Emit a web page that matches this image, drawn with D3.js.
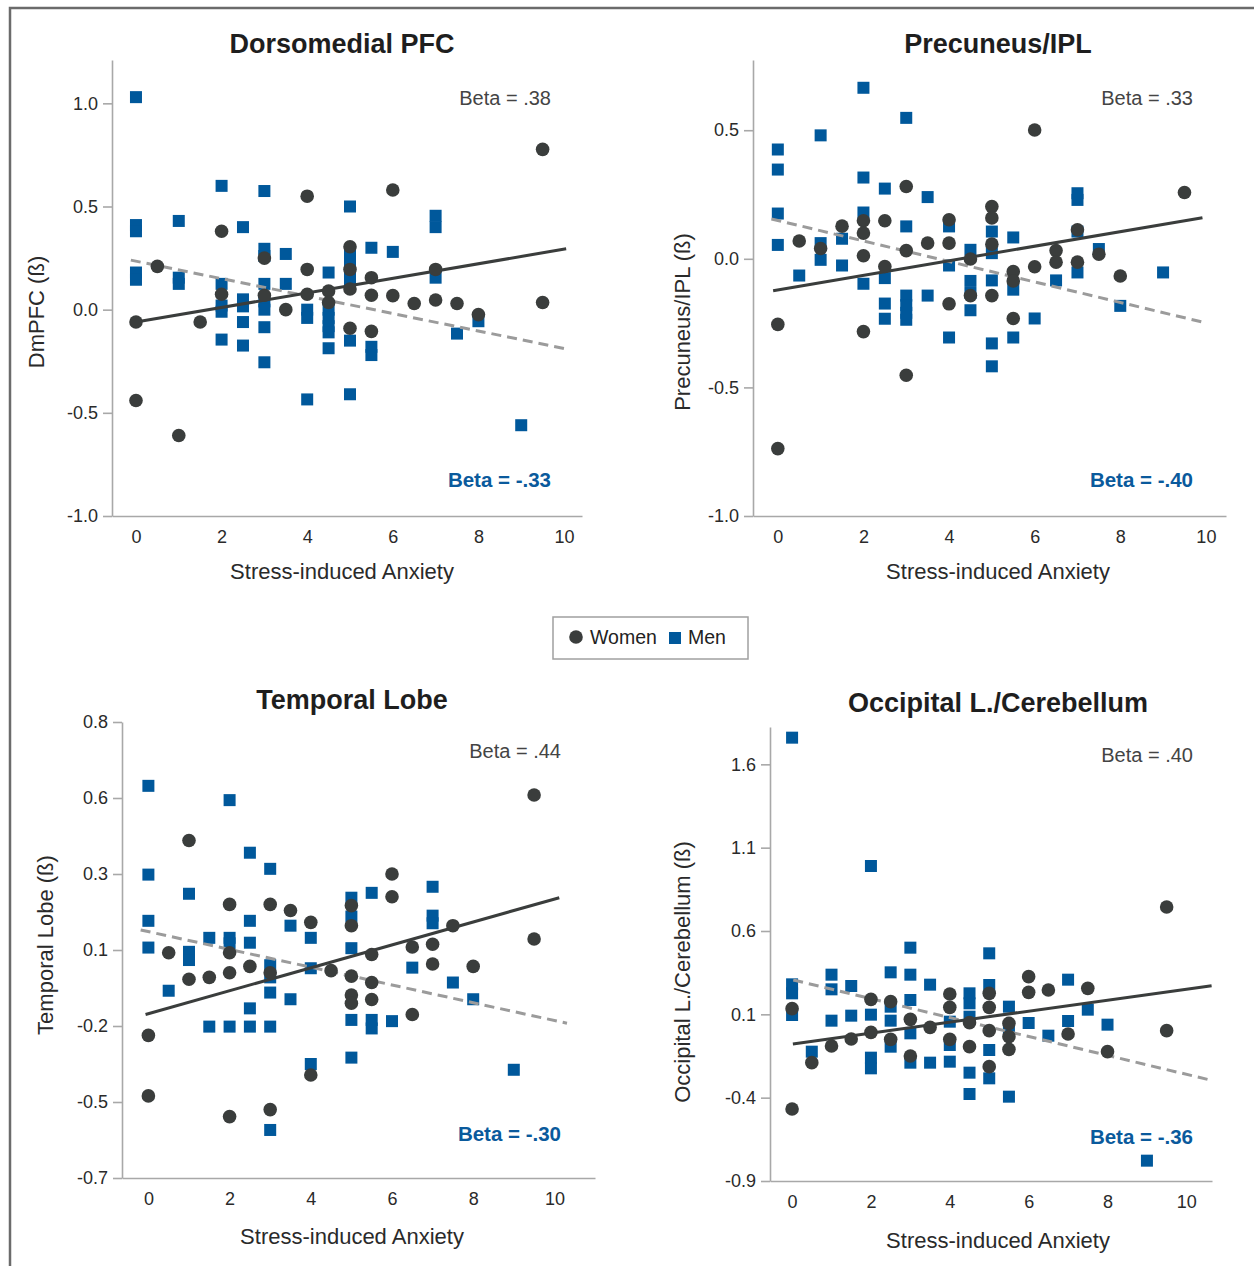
<!DOCTYPE html>
<html>
<head>
<meta charset="utf-8">
<script src="https://cdn.jsdelivr.net/npm/d3@7"></script>
<style>
  body { margin: 0; background: #fff; }
  svg { font-family: "Liberation Sans", Arial, sans-serif; }
</style>
</head>
<body>
<div id="viz-container"></div>
<script>
const width = 1254, height = 1266;

// Données : [anxiété, bêta]
const dmpfcWomen = [[0,-0.06],[0,-0.44],[0.5,0.21],[1,-0.61],[1.5,-0.06],[2,0.38],[2,0.075],[3,0.25],[3,0.07],[3.5,0.0],[4,0.55],[4,0.195],[4,0.075],[4.5,0.09],[4.5,0.035],[5,0.305],[5,0.195],[5,0.1],[5,-0.09],[5.5,0.155],[5.5,0.07],[5.5,-0.105],[6,0.58],[6,0.068],[6.5,0.03],[7,0.195],[7,0.047],[7.5,0.03],[8,-0.024],[9.5,0.777],[9.5,0.035]];
const dmpfcMen = [[0,1.03],[0,0.41],[0,0.38],[0,0.18],[0,0.145],[1,0.43],[1,0.155],[1,0.125],[2,0.6],[2,0.125],[2,0.02],[2,-0.01],[2,-0.145],[2.5,0.4],[2.5,0.05],[2.5,0.016],[2.5,-0.06],[2.5,-0.174],[3,0.575],[3,0.295],[3,0.26],[3,0.125],[3,0.04],[3,0.0],[3,-0.085],[3,-0.255],[3.5,0.27],[3.5,0.125],[4,0.0],[4,-0.04],[4,-0.435],[4.5,0.18],[4.5,0.0],[4.5,-0.04],[4.5,-0.08],[4.5,-0.11],[4.5,-0.187],[5,0.5],[5,0.27],[5,0.23],[5,0.18],[5,0.14],[5,-0.15],[5,-0.41],[5.5,0.3],[5.5,-0.18],[5.5,-0.22],[6,0.28],[7,0.455],[7,0.4],[7,0.155],[7.5,-0.116],[8,-0.056],[9,-0.56]];
const dmpfcWomenFit = [[0,-0.06],[10.05,0.295]];
const dmpfcMenFit = [[-0.12,0.24],[10.05,-0.19]];

const precWomen = [[0,-0.255],[0,-0.738],[0.5,0.069],[1,0.04],[1.5,0.127],[2,0.148],[2,0.1],[2,0.012],[2,-0.283],[2.5,0.148],[2.5,-0.03],[3,0.281],[3,0.032],[3,-0.453],[3.5,0.061],[4,0.152],[4,0.061],[4,-0.175],[4.5,-0.001],[4.5,-0.143],[5,0.203],[5,0.159],[5,0.057],[5,-0.143],[5.5,-0.05],[5.5,-0.086],[5.5,-0.232],[6,0.501],[6,-0.031],[6.5,0.032],[6.5,-0.013],[7,0.113],[7,-0.013],[7.5,0.018],[8,-0.067],[9.5,0.258]];
const precMen = [[0,0.425],[0,0.347],[0,0.176],[0,0.054],[0.5,-0.065],[1,0.48],[1,0.061],[1,-0.004],[1.5,0.078],[1.5,-0.026],[2,0.665],[2,0.316],[2,0.18],[2,-0.097],[2.5,0.273],[2.5,-0.075],[2.5,-0.174],[2.5,-0.233],[3,0.548],[3,0.126],[3,-0.143],[3,-0.18],[3,-0.21],[3,-0.237],[3.5,0.24],[3.5,-0.143],[4,0.126],[4,-0.026],[4,-0.306],[4.5,0.035],[4.5,-0.086],[4.5,-0.133],[4.5,-0.2],[5,0.106],[5,0.022],[5,-0.084],[5,-0.329],[5,-0.418],[5.5,0.083],[5.5,-0.12],[5.5,-0.306],[6,-0.232],[6.5,-0.084],[7,0.255],[7,0.229],[7,0.106],[7,-0.053],[7.5,0.038],[8,-0.183],[9,-0.053]];
const precWomenFit = [[-0.11,-0.124],[9.92,0.16]];
const precMenFit = [[-0.15,0.155],[10.02,-0.25]];

const tempWomen = [[0,-0.231],[0,-0.43],[0.5,0.041],[1,0.41],[1,-0.046],[1.5,-0.04],[2,0.2],[2,0.041],[2,-0.025],[2,-0.498],[2.5,-0.004],[3,0.2],[3,-0.025],[3,-0.475],[3.5,0.18],[4,0.141],[4,-0.361],[4.5,-0.018],[5,0.196],[5,0.13],[5,-0.036],[5,-0.098],[5,-0.125],[5.5,0.035],[5.5,-0.057],[5.5,-0.113],[6,0.3],[6,0.225],[6.5,0.06],[6.5,-0.162],[7,0.069],[7,0.004],[7.5,0.13],[8,-0.004],[9.5,0.56],[9.5,0.086]];
const tempMen = [[0,0.59],[0,0.298],[0,0.146],[0,0.058],[0.5,-0.084],[1,0.235],[1,0.044],[1,0.017],[1.5,0.09],[1.5,-0.202],[2,0.543],[2,0.09],[2,0.072],[2,-0.202],[2.5,0.37],[2.5,0.146],[2.5,0.074],[2.5,-0.142],[2.5,-0.202],[3,0.317],[3,0.0],[3,-0.04],[3,-0.09],[3,-0.202],[3,-0.542],[3.5,0.13],[3.5,-0.112],[4,0.09],[4,-0.01],[4,-0.325],[5,0.222],[5,0.16],[5,0.056],[5,-0.18],[5,-0.304],[5.5,0.238],[5.5,-0.18],[5.5,-0.208],[6,-0.184],[6.5,-0.008],[7,0.258],[7,0.163],[7,0.138],[7.5,-0.057],[8,-0.112],[9,-0.344]];
const tempWomenFit = [[-0.07,-0.162],[10.12,0.222]];
const tempMenFit = [[-0.19,0.116],[10.31,-0.191]];

const occWomen = [[0,0.134],[0,-0.468],[0.5,-0.19],[1,-0.09],[1.5,-0.048],[2,0.19],[2,-0.008],[2.5,0.176],[2.5,-0.05],[3,0.07],[3,-0.15],[3.5,0.022],[4,0.222],[4,0.142],[4,-0.05],[4.5,0.05],[4.5,-0.094],[5,0.226],[5,0.142],[5,0.002],[5,-0.214],[5.5,0.046],[5.5,-0.034],[5.5,-0.11],[6,0.326],[6,0.232],[6.5,0.246],[7,-0.018],[7.5,0.256],[8,-0.124],[9.5,0.744],[9.5,0.002]];
const occMen = [[0,1.76],[0,0.28],[0,0.226],[0,0.096],[0.5,-0.124],[1,0.338],[1,0.25],[1,0.062],[1.5,0.27],[1.5,0.092],[2,0.99],[2,0.098],[2,-0.16],[2,-0.224],[2.5,0.352],[2.5,0.146],[2.5,0.062],[2.5,-0.094],[3,0.5],[3,0.338],[3,0.186],[3,-0.014],[3,-0.19],[3.5,0.278],[3.5,-0.19],[4,0.056],[4,-0.084],[4,-0.184],[4.5,0.226],[4.5,0.166],[4.5,0.086],[4.5,-0.25],[4.5,-0.378],[5,0.466],[5,0.276],[5,-0.114],[5,-0.284],[5.5,0.146],[5.5,0.016],[5.5,-0.394],[6,0.048],[6.5,-0.028],[7,0.308],[7,0.06],[7.5,0.128],[8,0.038],[9,-0.778]];
const occWomenFit = [[0.02,-0.078],[10.64,0.272]];
const occMenFit = [[0.03,0.306],[10.6,-0.294]];

// Graduations
const xTicks = [0, 2, 4, 6, 8, 10];
const dmpfcYTicks = [-1.0, -0.5, 0.0, 0.5, 1.0];
const precYTicks = [-1.0, -0.5, 0.0, 0.5];
const tempYTicks = [-0.7, -0.45, -0.2, 0.05, 0.3, 0.55, 0.8];
const tempYLabels = ["-0.7", "-0.5", "-0.2", "0.1", "0.3", "0.6", "0.8"];
const occYTicks = [-0.9, -0.4, 0.1, 0.6, 1.1, 1.6];

const womenColor = "#3a3d3c", menColor = "#00589b";

const panels = [
  { title: "Dorsomedial PFC", yTitle: "DmPFC (ß)", women: dmpfcWomen, men: dmpfcMen,
    wFit: dmpfcWomenFit, mFit: dmpfcMenFit, betaW: "Beta = .38", betaM: "Beta = -.33",
    yTicks: dmpfcYTicks, yLabels: null,
    xDom: [-0.56, 10.42], xRange: [112, 582], yDom: [-1.0, 1.21], yRange: [516, 60],
    titleX: 342, titleY: 53, xTitleY: 579, yTitleX: 44, yTitleY: 312, betaX: 551, betaWY: 105, betaMY: 487 },
  { title: "Precuneus/IPL", yTitle: "Precuneus/IPL (ß)", women: precWomen, men: precMen,
    wFit: precWomenFit, mFit: precMenFit, betaW: "Beta = .33", betaM: "Beta = -.40",
    yTicks: precYTicks, yLabels: null,
    xDom: [-0.58, 10.47], xRange: [753, 1226], yDom: [-1.0, 0.773], yRange: [516, 60],
    titleX: 998, titleY: 53, xTitleY: 579, yTitleX: 690, yTitleY: 322, betaX: 1193, betaWY: 105, betaMY: 487 },
  { title: "Temporal Lobe", yTitle: "Temporal Lobe (ß)", women: tempWomen, men: tempMen,
    wFit: tempWomenFit, mFit: tempMenFit, betaW: "Beta = .44", betaM: "Beta = -.30",
    yTicks: tempYTicks, yLabels: tempYLabels,
    xDom: [-0.65, 11.0], xRange: [122, 595], yDom: [-0.7, 0.8], yRange: [1178, 722],
    titleX: 352, titleY: 709, xTitleY: 1244, yTitleX: 53, yTitleY: 945, betaX: 561, betaWY: 758, betaMY: 1141 },
  { title: "Occipital L./Cerebellum", yTitle: "Occipital L./Cerebellum (ß)", women: occWomen, men: occMen,
    wFit: occWomenFit, mFit: occMenFit, betaW: "Beta = .40", betaM: "Beta = -.36",
    yTicks: occYTicks, yLabels: null,
    xDom: [-0.56, 10.65], xRange: [770, 1212], yDom: [-0.9, 1.824], yRange: [1181, 727],
    titleX: 998, titleY: 712, xTitleY: 1248, yTitleX: 690, yTitleY: 972, betaX: 1193, betaWY: 762, betaMY: 1144 }
];

const svg = d3.select("#viz-container")
  .append("svg")
  .attr("width", width)
  .attr("height", height);

// Cadre
svg.append("path")
  .attr("d", `M10,${height} L10,8 L${width},8`)
  .attr("fill", "none")
  .attr("stroke", "#6b6b6b")
  .attr("stroke-width", 2.5);

panels.forEach(p => {
  const x = d3.scaleLinear().domain(p.xDom).range(p.xRange);
  const y = d3.scaleLinear().domain(p.yDom).range(p.yRange);
  const g = svg.append("g");

  // Axes
  const yAxis = d3.axisLeft(y)
    .tickValues(p.yTicks)
    .tickSize(9)
    .tickSizeOuter(0)
    .tickPadding(5)
    .tickFormat((d, i) => p.yLabels ? p.yLabels[i] : d.toFixed(1));
  const ya = g.append("g")
    .attr("transform", `translate(${p.xRange[0]},0)`)
    .call(yAxis);

  const xAxis = d3.axisBottom(x)
    .tickValues(xTicks)
    .tickSize(0)
    .tickSizeOuter(0)
    .tickPadding(14);
  const xa = g.append("g")
    .attr("transform", `translate(0,${p.yRange[0]})`)
    .call(xAxis);

  [ya, xa].forEach(a => {
    a.select(".domain").attr("stroke", "#a8a8a8").attr("stroke-width", 1.6);
    a.selectAll(".tick line").attr("stroke", "#a8a8a8").attr("stroke-width", 1.6);
    a.selectAll(".tick text")
      .attr("fill", "#2a2a2a")
      .style("font-size", "18px")
      .style("font-family", "'Liberation Sans', Arial, sans-serif");
  });

  // Titres
  g.append("text")
    .attr("x", p.titleX).attr("y", p.titleY)
    .attr("text-anchor", "middle")
    .style("font-size", "27px").style("font-weight", "bold")
    .attr("fill", "#1e1e1e")
    .text(p.title);

  g.append("text")
    .attr("x", p.titleX).attr("y", p.xTitleY)
    .attr("text-anchor", "middle")
    .style("font-size", "22px")
    .attr("fill", "#2a2a2a")
    .text("Stress-induced Anxiety");

  g.append("text")
    .attr("transform", `translate(${p.yTitleX},${p.yTitleY}) rotate(-90)`)
    .attr("text-anchor", "middle")
    .style("font-size", "22px")
    .attr("fill", "#2a2a2a")
    .text(p.yTitle);

  // Hommes (carrés)
  const s = 12;
  g.selectAll("rect.men")
    .data(p.men)
    .join("rect")
    .attr("class", "men")
    .attr("x", d => x(d[0]) - s / 2)
    .attr("y", d => y(d[1]) - s / 2)
    .attr("width", s)
    .attr("height", s)
    .attr("fill", menColor);

  // Droites de régression
  const line = d3.line().x(d => x(d[0])).y(d => y(d[1]));
  g.append("path")
    .datum(p.mFit)
    .attr("d", line)
    .attr("fill", "none")
    .attr("stroke", "#9b9b9b")
    .attr("stroke-width", 3)
    .attr("stroke-dasharray", "10,6");
  g.append("path")
    .datum(p.wFit)
    .attr("d", line)
    .attr("fill", "none")
    .attr("stroke", "#3a3d3c")
    .attr("stroke-width", 3);

  // Femmes (cercles)
  g.selectAll("circle.women")
    .data(p.women)
    .join("circle")
    .attr("class", "women")
    .attr("cx", d => x(d[0]))
    .attr("cy", d => y(d[1]))
    .attr("r", 6.8)
    .attr("fill", womenColor);

  // Annotations Beta
  g.append("text")
    .attr("x", p.betaX).attr("y", p.betaWY)
    .attr("text-anchor", "end")
    .style("font-size", "20px")
    .attr("fill", "#444")
    .text(p.betaW);
  g.append("text")
    .attr("x", p.betaX).attr("y", p.betaMY)
    .attr("text-anchor", "end")
    .style("font-size", "20.5px").style("font-weight", "bold")
    .attr("fill", "#0a5a9c")
    .text(p.betaM);
});

// Légende
const legend = svg.append("g");
legend.append("rect")
  .attr("x", 553).attr("y", 617)
  .attr("width", 195).attr("height", 42)
  .attr("fill", "#fff")
  .attr("stroke", "#a0a0a0")
  .attr("stroke-width", 1.5);
legend.append("circle")
  .attr("cx", 576).attr("cy", 637).attr("r", 6.8)
  .attr("fill", womenColor);
legend.append("text")
  .attr("x", 590).attr("y", 644)
  .style("font-size", "19.5px").attr("fill", "#222")
  .text("Women");
legend.append("rect")
  .attr("x", 669).attr("y", 632).attr("width", 12).attr("height", 12)
  .attr("fill", menColor);
legend.append("text")
  .attr("x", 688).attr("y", 644)
  .style("font-size", "19.5px").attr("fill", "#222")
  .text("Men");
</script>
</body>
</html>
